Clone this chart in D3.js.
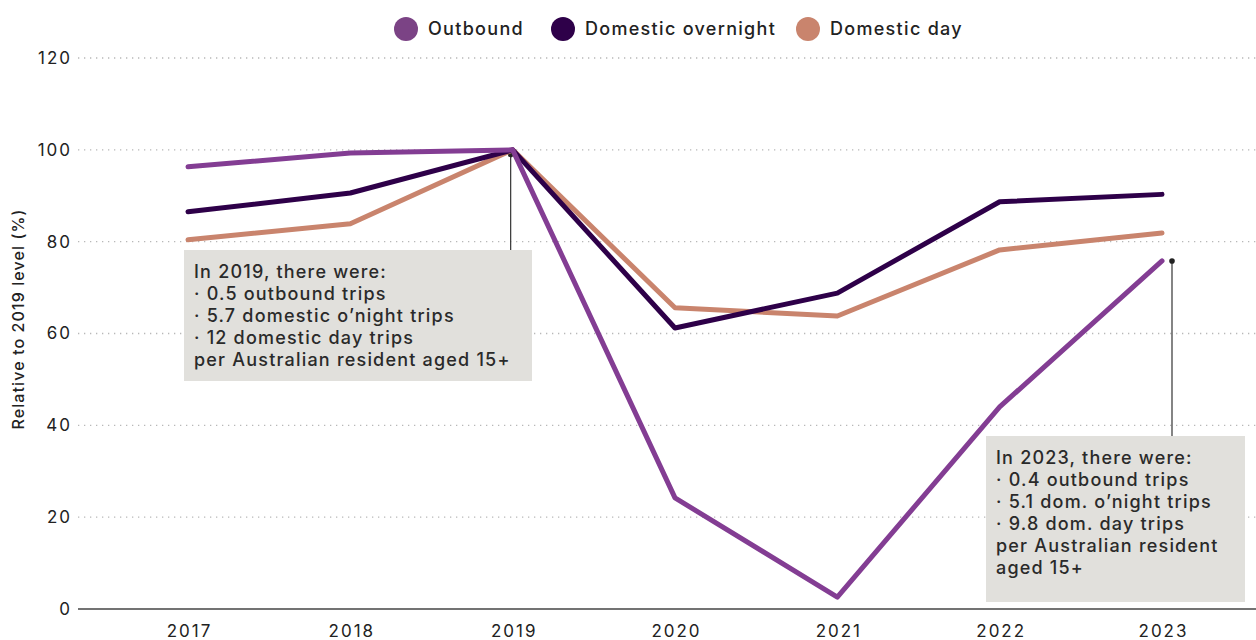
<!DOCTYPE html>
<html>
<head>
<meta charset="utf-8">
<script src="https://cdn.jsdelivr.net/npm/d3@7"></script>
<style>
  body { margin: 0; background: #fff; }
  svg { display: block; font-family: 'Inter', 'Noto Sans', sans-serif; }
</style>
</head>
<body>
<svg id="chart"></svg>
<script>
const width = 1256
const height = 640

// data
const years = ['2017', '2018', '2019', '2020', '2021', '2022', '2023']
const outbound = [96.3, 99.3, 100, 24.2, 2.6, 44, 75.8]
const domesticOvernight = [86.5, 90.6, 100, 61.2, 68.8, 88.7, 90.3]
const domesticDay = [80.4, 83.9, 100, 65.6, 63.8, 78.2, 81.9]
const yTicks = [0, 20, 40, 60, 80, 100, 120]

const seriesNames = ['Outbound', 'Domestic overnight', 'Domestic day']
const seriesColors = ['#833d93', '#2e0049', '#c9846d']
const legendColors = ['#7b4385', '#2e0049', '#c9846d']

const note2019 = ['In 2019, there were:', '\u00b7 0.5 outbound trips', '\u00b7 5.7 domestic o\u2019night trips', '\u00b7 12 domestic day trips', 'per Australian resident aged 15+']
const note2023 = ['In 2023, there were:', '\u00b7 0.4 outbound trips', '\u00b7 5.1 dom. o\u2019night trips', '\u00b7 9.8 dom. day trips', 'per Australian resident', 'aged 15+']

const svg = d3.select('#chart').attr('width', width).attr('height', height)

// --------------------------------------------------------------
// scales
const x = d3.scalePoint().domain(years).range([188, 1162])
const y = d3.scaleLinear().domain([0, 120]).range([609, 58])
const plotLeft = 78
const plotRight = 1256

// gridlines
svg.append('g')
  .selectAll('line')
  .data(yTicks.filter((d) => d > 0))
  .join('line')
  .attr('x1', plotLeft)
  .attr('x2', plotRight)
  .attr('y1', (d) => y(d))
  .attr('y2', (d) => y(d))
  .attr('stroke', '#b8b8b8')
  .attr('stroke-width', 1.3)
  .attr('stroke-dasharray', '1.3 4.7')

// baseline
svg.append('line')
  .attr('x1', plotLeft)
  .attr('x2', plotRight)
  .attr('y1', y(0))
  .attr('y2', y(0))
  .attr('stroke', '#444')
  .attr('stroke-width', 1.5)

// y axis labels (letter-spacing adds trailing space, so shift right a bit)
const yAxis = svg.append('g')
  .attr('transform', `translate(${plotLeft - 6},0)`)
  .call(d3.axisLeft(y).tickValues(yTicks).tickSize(0).tickPadding(0))
yAxis.select('.domain').remove()
yAxis.selectAll('text')
  .attr('font-family', "'Inter', 'Noto Sans', sans-serif")
  .attr('font-size', 17)
  .attr('letter-spacing', 2)
  .attr('fill', '#222')

// x axis labels
const xAxis = svg.append('g')
  .attr('transform', `translate(1,${y(0)})`)
  .call(d3.axisBottom(x).tickSize(0).tickPadding(16))
xAxis.select('.domain').remove()
xAxis.selectAll('text')
  .attr('font-family', "'Inter', 'Noto Sans', sans-serif")
  .attr('font-size', 17)
  .attr('letter-spacing', 2)
  .attr('fill', '#222')

// y title
svg.append('text')
  .attr('transform', `translate(24,${319}) rotate(-90)`)
  .attr('text-anchor', 'middle')
  .attr('font-size', 16)
  .attr('font-weight', 500)
  .attr('letter-spacing', 1.1)
  .attr('fill', '#222')
  .text('Relative to 2019 level (%)')

// --------------------------------------------------------------
// annotation boxes
function drawNote(lines, bx, by, bw, bh, dotYear, dotVal, dotDx) {
  const g = svg.append('g')
  const dx = x(dotYear) + dotDx
  const dy = y(dotVal)
  g.append('rect')
    .attr('x', bx).attr('y', by).attr('width', bw).attr('height', bh)
    .attr('fill', '#e1e0dc')
  g.append('line')
    .attr('x1', dx).attr('x2', dx).attr('y1', dy).attr('y2', by)
    .attr('stroke', '#333').attr('stroke-width', 1.2)
  g.append('circle')
    .attr('cx', dx).attr('cy', dy).attr('r', 2.8).attr('fill', '#222')
  g.append('text')
    .attr('font-size', 18)
    .attr('font-weight', 500)
    .attr('letter-spacing', 1.2)
    .attr('fill', '#2a2a2a')
    .selectAll('tspan')
    .data(lines)
    .join('tspan')
    .attr('x', bx + 10)
    .attr('y', (d, i) => by + 28 + i * 22)
    .text((d) => d)
}

// --------------------------------------------------------------
// lines
const lineGen = d3.line()
  .x((d, i) => x(years[i]))
  .y((d) => y(d))

const order = [2, 1, 0]

drawNote(note2019, 184, 250, 348, 131, '2019', 99, -2)

svg.append('g')
  .selectAll('path')
  .data(order)
  .join('path')
  .attr('d', (i) => lineGen([outbound, domesticOvernight, domesticDay][i]))
  .attr('fill', 'none')
  .attr('stroke', (i) => seriesColors[i])
  .attr('stroke-width', 5)
  .attr('stroke-linejoin', 'round')
  .attr('stroke-linecap', 'round')

drawNote(note2023, 986, 436, 259, 166, '2023', 75.8, 10)

// --------------------------------------------------------------
// legend
const legendX = [406, 563, 808]
const legend = svg.append('g')
  .selectAll('g')
  .data(seriesNames)
  .join('g')
  .attr('transform', (d, i) => `translate(${legendX[i]},29)`)
legend.append('circle')
  .attr('r', 12)
  .attr('fill', (d, i) => legendColors[i])
legend.append('text')
  .attr('x', 22)
  .attr('dy', '0.35em')
  .attr('font-size', 18)
  .attr('font-weight', 500)
  .attr('letter-spacing', 1.3)
  .attr('fill', '#222')
  .text((d) => d)
</script>
</body>
</html>
